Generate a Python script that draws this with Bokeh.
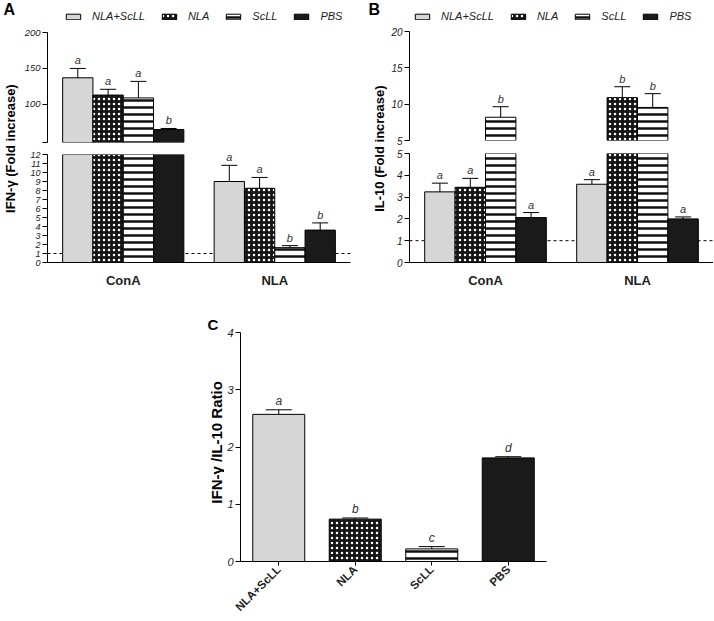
import math
import numpy as np
from bokeh.plotting import figure
from bokeh.models import (ColumnDataSource, FactorRange, Range1d, FixedTicker,
                          Span, Legend, LegendItem, CDSView, BooleanFilter)
from bokeh.layouts import row, column
from bokeh.transform import dodge
from bokeh.core.properties import value
from bokeh.embed import file_html
from bokeh.resources import INLINE

FONT = "Liberation Sans"

# ---------------- data ----------------
groups = ["ConA", "NLA"]
series = ["NLA+ScLL", "NLA", "ScLL", "PBS"]

# Panel A: IFN-gamma (fold increase), mean and SEM for ConA / NLA stimulation
ifn_nla_scll = [137.0, 9.0]
ifn_nla_scll_sem = [13.0, 1.8]
ifn_nla = [113.0, 8.25]
ifn_nla_sem = [8.0, 1.2]
ifn_scll = [109.0, 1.65]
ifn_scll_sem = [23.0, 0.22]
ifn_pbs = [65.0, 3.6]
ifn_pbs_sem = [1.5, 0.8]
ifn_letters_nla_scll = ["a", "a"]
ifn_letters_nla = ["a", "a"]
ifn_letters_scll = ["a", "b"]
ifn_letters_pbs = ["b", "b"]

# Panel B: IL-10 (fold increase)
il10_nla_scll = [3.24, 3.59]
il10_nla_scll_sem = [0.40, 0.21]
il10_nla = [3.45, 10.9]
il10_nla_sem = [0.41, 1.5]
il10_scll = [8.2, 9.55]
il10_scll_sem = [1.45, 1.9]
il10_pbs = [2.06, 2.0]
il10_pbs_sem = [0.23, 0.09]
il10_letters_nla_scll = ["a", "a"]
il10_letters_nla = ["a", "b"]
il10_letters_scll = ["b", "b"]
il10_letters_pbs = ["a", "a"]

# Panel C: IFN-gamma / IL-10 ratio
ratio_labels = ["NLA+ScLL", "NLA", "ScLL", "PBS"]
ratio_values = [2.57, 0.74, 0.22, 1.81]
ratio_sem = [0.08, 0.02, 0.04, 0.02]
ratio_letters = ["a", "b", "c", "d"]

# ---------------- styles ----------------
STYLE = {
    "NLA+ScLL": dict(fill_color="#d6d6d6"),
    "NLA": dict(fill_color="#151515", hatch_pattern="dot", hatch_color="white",
                hatch_scale=5, hatch_weight=1),
    "ScLL": dict(fill_color="white", hatch_pattern="horizontal_line",
                 hatch_color="#111111", hatch_scale=7, hatch_weight=2.5),
    "PBS": dict(fill_color="#1a1a1a"),
}
OFFSETS = [-0.3, -0.1, 0.1, 0.3]


def base_style(p):
    p.xgrid.visible = False
    p.ygrid.visible = False
    p.outline_line_color = None
    for ax in p.axis:
        ax.axis_line_color = "black"
        ax.axis_line_width = 1
        ax.major_tick_line_color = "black"
        ax.major_tick_in = 0
        ax.major_tick_out = 5
        ax.minor_tick_line_color = None
        ax.major_label_text_font = FONT
        ax.major_label_text_color = "#222222"


def style_y(p, ticks, size, overrides=None):
    ax = p.yaxis[0]
    ax.ticker = FixedTicker(ticks=ticks)
    ax.major_label_text_font_style = "italic"
    ax.major_label_text_font_size = size
    ax.major_label_standoff = 2
    if overrides:
        ax.major_label_overrides = overrides


def add_grouped(p, xr, datasets, cap, lo, hi):
    for (name, mean, sem, letters), off in zip(datasets, OFFSETS):
        m = np.asarray(mean, dtype=float)
        src = ColumnDataSource(dict(group=groups, mean=mean,
                                    upper=list(m + np.asarray(sem)), letter=letters))
        bar_mask = [bool(v) for v in (m > lo)]
        det_mask = [bool(v) for v in ((m > lo) & (m < hi))]
        p.vbar(x=dodge("group", off, range=xr), top="mean", bottom=0, width=0.2,
               source=src, view=CDSView(filter=BooleanFilter(bar_mask)),
               line_color="black", line_width=1, **STYLE[name])
        p.segment(x0=dodge("group", off, range=xr), y0="mean",
                  x1=dodge("group", off, range=xr), y1="upper", source=src,
                  view=CDSView(filter=BooleanFilter(det_mask)),
                  line_color="black", line_width=1)
        p.scatter(x=dodge("group", off, range=xr), y="upper", marker="dash", size=cap,
                  line_color="black", line_width=1, source=src,
                  view=CDSView(filter=BooleanFilter(det_mask)))
        p.text(x=dodge("group", off, range=xr), y="upper", text="letter", source=src,
               view=CDSView(filter=BooleanFilter(det_mask)),
               text_align="center", text_baseline="bottom", y_offset=-2,
               text_font=value(FONT), text_font_style="italic", text_font_size="11px",
               text_color="#333333")


def legend_fig(width, height, vx, vy):
    # a strip that only carries the legend; its key glyphs sit outside the view
    p = figure(width=width, height=height, x_range=Range1d(0, 1), y_range=Range1d(0, 1),
               x_axis_location=None, y_axis_location=None, min_border=0,
               toolbar_location=None, tools="", output_backend="svg")
    p.xgrid.visible = False
    p.ygrid.visible = False
    p.outline_line_color = None
    items = []
    for name in series:
        r = p.vbar(x=[-5.0], top=[-5.0], bottom=[-6.0], width=0.1, line_color="black",
                   line_width=1, **STYLE[name])
        items.append(LegendItem(label=name, renderers=[r]))
    leg = Legend(items=items, orientation="horizontal", location=(vx, vy),
                 glyph_width=18, glyph_height=7, label_standoff=10, spacing=15,
                 padding=0, margin=0, border_line_color=None, background_fill_alpha=0,
                 label_height=12, label_text_font=FONT, label_text_font_style="italic",
                 label_text_font_size="11px", label_text_color="#222222")
    p.add_layout(leg)
    return p


def label_fig(width, height, texts):
    p = figure(width=width, height=height, x_range=Range1d(0, 1), y_range=Range1d(0, 1),
               x_axis_location=None, y_axis_location=None, min_border=0,
               toolbar_location=None, tools="", output_backend="svg")
    p.xgrid.visible = False
    p.ygrid.visible = False
    p.outline_line_color = None
    for (x, y, t, ang, size, align, base) in texts:
        p.text(x=[x], y=[y], text=[t], angle=ang, text_align=align, text_baseline=base,
               text_font=value(FONT), text_font_style="bold", text_font_size=size,
               text_color="black")
    return p


def split_panel(width, bl, br, up_borders, lo_borders, up_range, up_ticks, up_over,
                up_size, lo_range, lo_ticks, lo_size, datasets, cap, legend_vx):
    xr = FactorRange(factors=groups, range_padding=0)
    leg = legend_fig(width, 26, legend_vx, 4)
    pu = figure(width=width, height=121, x_range=xr, y_range=Range1d(*up_range),
                x_axis_location=None, min_border_left=bl, min_border_right=br,
                min_border_top=up_borders[0], min_border_bottom=up_borders[1],
                toolbar_location=None, tools="", output_backend="svg")
    pl = figure(width=width, height=148, x_range=xr, y_range=Range1d(*lo_range),
                min_border_left=bl, min_border_right=br, min_border_top=lo_borders[0],
                min_border_bottom=lo_borders[1], toolbar_location=None, tools="",
                output_backend="svg")
    for p in (pu, pl):
        base_style(p)
    style_y(pu, up_ticks, up_size, up_over)
    style_y(pl, lo_ticks, lo_size)
    xa = pl.xaxis[0]
    xa.major_tick_out = 0
    xa.major_label_standoff = 10
    xa.major_label_text_font_style = "bold"
    xa.major_label_text_font_size = "13px"
    pl.add_layout(Span(location=1, dimension="width", line_color="black",
                       line_dash="3 3", line_width=1, level="underlay"))
    add_grouped(pu, xr, datasets, cap, up_range[0], up_range[1] + 1)
    add_grouped(pl, xr, datasets, cap, -1, lo_range[1])
    return column(leg, pu, pl)


ifn_sets = [("NLA+ScLL", ifn_nla_scll, ifn_nla_scll_sem, ifn_letters_nla_scll),
            ("NLA", ifn_nla, ifn_nla_sem, ifn_letters_nla),
            ("ScLL", ifn_scll, ifn_scll_sem, ifn_letters_scll),
            ("PBS", ifn_pbs, ifn_pbs_sem, ifn_letters_pbs)]
il10_sets = [("NLA+ScLL", il10_nla_scll, il10_nla_scll_sem, il10_letters_nla_scll),
             ("NLA", il10_nla, il10_nla_sem, il10_letters_nla),
             ("ScLL", il10_scll, il10_scll_sem, il10_letters_scll),
             ("PBS", il10_pbs, il10_pbs_sem, il10_letters_pbs)]

panelA = split_panel(336, 23, 7, (6, 5), (7, 33), (47, 200), [47, 100, 150, 200],
                     {47: ""}, "9.5px", (0, 12), list(range(0, 13)), "9px",
                     ifn_sets, 16, 17)
panelB = split_panel(326, 22, 0, (5, 7), (6, 33), (5, 20), [5, 10, 15, 20], None,
                     "10px", (0, 5), list(range(0, 6)), "10px", il10_sets, 16, 4)

labelA = label_fig(21, 295, [(0.143, 0.997, "A", 0, "16px", "left", "top"),
                             (0.476, 0.498, "IFN-γ (Fold increase)", math.pi / 2,
                              "13px", "center", "middle")])
labelB = label_fig(30, 295, [(0.367, 0.997, "B", 0, "16px", "left", "top"),
                             (0.733, 0.498, "IL-10 (Fold increase)", math.pi / 2,
                              "13px", "center", "middle")])

# ---------------- panel C ----------------
xrC = FactorRange(factors=ratio_labels, range_padding=0)
pC = figure(width=332, height=325, x_range=xrC, y_range=Range1d(0, 4),
            min_border_left=15, min_border_right=10, min_border_top=37,
            min_border_bottom=56, toolbar_location=None, tools="", output_backend="svg")
base_style(pC)
style_y(pC, [0, 1, 2, 3, 4], "11px")
xc = pC.xaxis[0]
xc.major_tick_out = 4
xc.major_label_standoff = 2
xc.major_label_orientation = math.pi / 4
xc.major_label_text_font_style = "bold"
xc.major_label_text_font_size = "11.5px"
for i, name in enumerate(ratio_labels):
    src = ColumnDataSource(dict(label=[name], v=[ratio_values[i]],
                                upper=[ratio_values[i] + ratio_sem[i]],
                                letter=[ratio_letters[i]]))
    pC.vbar(x="label", top="v", bottom=0, width=0.68, source=src, line_color="black",
            line_width=1, **STYLE[name])
    pC.segment(x0="label", y0="v", x1="label", y1="upper", source=src,
               line_color="black", line_width=1)
    pC.scatter(x="label", y="upper", marker="dash", size=26, line_color="black",
               line_width=1, source=src)
    pC.text(x="label", y="upper", text="letter", source=src, text_align="center",
            text_baseline="bottom", y_offset=-2, text_font=value(FONT),
            text_font_style="italic", text_font_size="12px", text_color="#333333")

labelC = label_fig(224, 325, [(0.924, 0.938, "C", 0, "15px", "left", "top"),
                              (0.964, 0.548, "IFN-γ /IL-10 Ratio", math.pi / 2, "15px",
                               "center", "middle")])

layout = column(row(labelA, panelA, labelB, panelB),
                row(labelC, column(pC)))

open("out.html", "w").write(file_html(layout, INLINE))
